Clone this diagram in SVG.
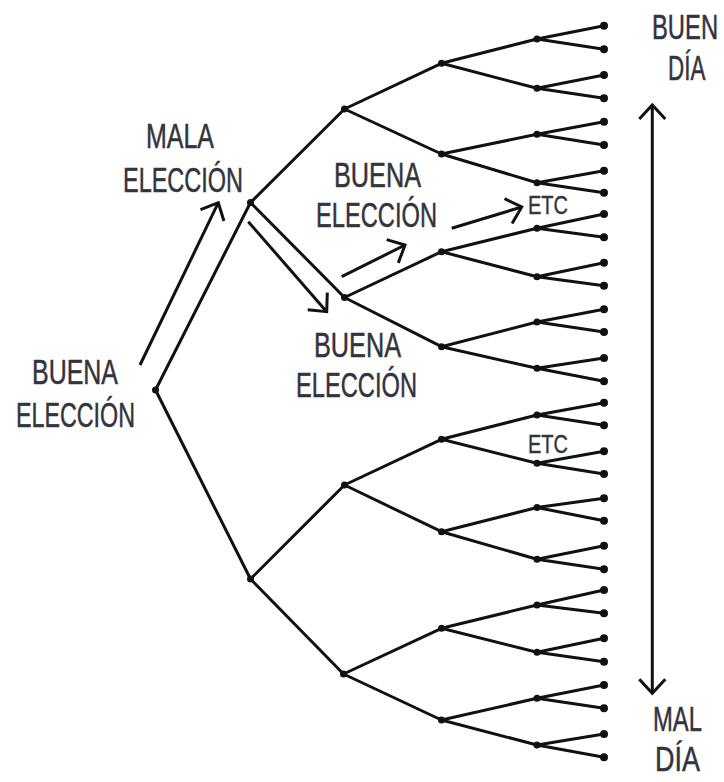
<svg xmlns="http://www.w3.org/2000/svg" width="724" height="782" viewBox="0 0 724 782">
<style>
.edge{fill:none;stroke:#111;stroke-width:3;stroke-linecap:round}
.arrow{fill:none;stroke:#111;stroke-width:3}
.dot{fill:#111}
.lbl{font-family:"Liberation Sans",Arial,sans-serif;font-size:35px;fill:#33343c;stroke:#33343c;stroke-width:0.5}
.etc{font-family:"Liberation Sans",Arial,sans-serif;font-size:26px;fill:#33343c;stroke:#33343c;stroke-width:0.4}
</style>
<defs>
<marker id="chev" markerUnits="userSpaceOnUse" markerWidth="40" markerHeight="40" refX="0" refY="0" viewBox="-20 -20 40 40" orient="auto-start-reverse" overflow="visible">
<path d="M-14,-13 L0,0 L-14,13" fill="none" stroke="#111" stroke-width="3" stroke-linejoin="miter"/>
</marker>
</defs>
<rect width="724" height="782" fill="#fff"/>
<g id="connectors">
<path class="edge" d="M155.5,390 L250.5,202.5 M155.5,390 L250.5,579
M250.5,202.5 L344.5,109 M250.5,202.5 L344.5,297.5 M250.5,579 L344.5,485 M250.5,579 L343.5,674
M344.5,109 L441.5,63.3 M344.5,109 L441.5,154 M344.5,297.5 L441.5,251.7 M344.5,297.5 L441.5,346.7
M344.5,485 L441.5,439.3 M344.5,485 L441.5,531.7 M343.5,674 L441.5,628.3 M343.5,674 L441.5,720
M441.5,63.3 L537,39 M441.5,63.3 L537,88.3 M441.5,154 L537,134.3 M441.5,154 L537,182.7
M441.5,251.7 L537,228.3 M441.5,251.7 L537,276.7 M441.5,346.7 L537,322 M441.5,346.7 L537,368.3
M441.5,439.3 L537,415 M441.5,439.3 L537,463.3 M441.5,531.7 L537,507.5 M441.5,531.7 L537,559.3
M441.5,628.3 L537,605 M441.5,628.3 L537,652.3 M441.5,720 L537,698.3 M441.5,720 L537,745
M537,39 L604,25.7 M537,39 L604,49.3 M537,88.3 L604,75 M537,88.3 L604,98.3
M537,134.3 L604,121.7 M537,134.3 L604,145 M537,182.7 L604,170.7 M537,182.7 L604,192.7
M537,228.3 L604,214 M537,228.3 L604,237.3 M537,276.7 L604,262.7 M537,276.7 L604,285.7
M537,322 L604,309.3 M537,322 L604,332 M537,368.3 L604,358 M537,368.3 L604,381.3
M537,415 L604,402.7 M537,415 L604,425.3 M537,463.3 L604,451.3 M537,463.3 L604,474
M537,507.5 L604,498.3 M537,507.5 L604,520.7 M537,559.3 L604,545.7 M537,559.3 L604,569.3
M537,605 L604,590 M537,605 L604,613.3 M537,652.3 L604,638.3 M537,652.3 L604,661.7
M537,698.3 L604,685 M537,698.3 L604,708.3 M537,745 L604,734 M537,745 L604,757.3"/>
<line class="arrow" x1="140" y1="365" x2="218.3" y2="202.7" marker-end="url(#chev)"/>
<line class="arrow" x1="248.3" y1="221.7" x2="326.7" y2="311.7" marker-end="url(#chev)"/>
<line class="arrow" x1="341.7" y1="276.7" x2="405" y2="245" marker-end="url(#chev)"/>
<line class="arrow" x1="451.7" y1="228.3" x2="521.7" y2="207" marker-end="url(#chev)"/>
<line class="arrow" x1="652.3" y1="105" x2="652.3" y2="693.3" marker-start="url(#chev)" marker-end="url(#chev)"/>
</g>
<g id="nodes">
<g id="n-root"><circle class="dot" cx="155.5" cy="390" r="3.5"/></g>
<g id="n-1a"><circle class="dot" cx="250.5" cy="202.5" r="3.5"/></g>
<g id="n-1b"><circle class="dot" cx="250.5" cy="579" r="3.5"/></g>
<g id="n-2a"><circle class="dot" cx="344.5" cy="109" r="3.5"/></g>
<g id="n-2b"><circle class="dot" cx="344.5" cy="297.5" r="3.5"/></g>
<g id="n-2c"><circle class="dot" cx="344.5" cy="485" r="3.5"/></g>
<g id="n-2d"><circle class="dot" cx="343.5" cy="674" r="3.5"/></g>
<g id="n-3a"><circle class="dot" cx="441.5" cy="63.3" r="3.5"/></g>
<g id="n-3b"><circle class="dot" cx="441.5" cy="154" r="3.5"/></g>
<g id="n-3c"><circle class="dot" cx="441.5" cy="251.7" r="3.5"/></g>
<g id="n-3d"><circle class="dot" cx="441.5" cy="346.7" r="3.5"/></g>
<g id="n-3e"><circle class="dot" cx="441.5" cy="439.3" r="3.5"/></g>
<g id="n-3f"><circle class="dot" cx="441.5" cy="531.7" r="3.5"/></g>
<g id="n-3g"><circle class="dot" cx="441.5" cy="628.3" r="3.5"/></g>
<g id="n-3h"><circle class="dot" cx="441.5" cy="720" r="3.5"/></g>
<g id="n-4-0"><circle class="dot" cx="537" cy="39" r="3.5"/></g>
<g id="n-4-1"><circle class="dot" cx="537" cy="88.3" r="3.5"/></g>
<g id="n-4-2"><circle class="dot" cx="537" cy="134.3" r="3.5"/></g>
<g id="n-4-3"><circle class="dot" cx="537" cy="182.7" r="3.5"/></g>
<g id="n-4-4"><circle class="dot" cx="537" cy="228.3" r="3.5"/></g>
<g id="n-4-5"><circle class="dot" cx="537" cy="276.7" r="3.5"/></g>
<g id="n-4-6"><circle class="dot" cx="537" cy="322" r="3.5"/></g>
<g id="n-4-7"><circle class="dot" cx="537" cy="368.3" r="3.5"/></g>
<g id="n-4-8"><circle class="dot" cx="537" cy="415" r="3.5"/></g>
<g id="n-4-9"><circle class="dot" cx="537" cy="463.3" r="3.5"/></g>
<g id="n-4-10"><circle class="dot" cx="537" cy="507.5" r="3.5"/></g>
<g id="n-4-11"><circle class="dot" cx="537" cy="559.3" r="3.5"/></g>
<g id="n-4-12"><circle class="dot" cx="537" cy="605" r="3.5"/></g>
<g id="n-4-13"><circle class="dot" cx="537" cy="652.3" r="3.5"/></g>
<g id="n-4-14"><circle class="dot" cx="537" cy="698.3" r="3.5"/></g>
<g id="n-4-15"><circle class="dot" cx="537" cy="745" r="3.5"/></g>
<g id="leaf-0"><circle class="dot" cx="604" cy="25.7" r="4"/></g>
<g id="leaf-1"><circle class="dot" cx="604" cy="49.3" r="4"/></g>
<g id="leaf-2"><circle class="dot" cx="604" cy="75" r="4"/></g>
<g id="leaf-3"><circle class="dot" cx="604" cy="98.3" r="4"/></g>
<g id="leaf-4"><circle class="dot" cx="604" cy="121.7" r="4"/></g>
<g id="leaf-5"><circle class="dot" cx="604" cy="145" r="4"/></g>
<g id="leaf-6"><circle class="dot" cx="604" cy="170.7" r="4"/></g>
<g id="leaf-7"><circle class="dot" cx="604" cy="192.7" r="4"/></g>
<g id="leaf-8"><circle class="dot" cx="604" cy="214" r="4"/></g>
<g id="leaf-9"><circle class="dot" cx="604" cy="237.3" r="4"/></g>
<g id="leaf-10"><circle class="dot" cx="604" cy="262.7" r="4"/></g>
<g id="leaf-11"><circle class="dot" cx="604" cy="285.7" r="4"/></g>
<g id="leaf-12"><circle class="dot" cx="604" cy="309.3" r="4"/></g>
<g id="leaf-13"><circle class="dot" cx="604" cy="332" r="4"/></g>
<g id="leaf-14"><circle class="dot" cx="604" cy="358" r="4"/></g>
<g id="leaf-15"><circle class="dot" cx="604" cy="381.3" r="4"/></g>
<g id="leaf-16"><circle class="dot" cx="604" cy="402.7" r="4"/></g>
<g id="leaf-17"><circle class="dot" cx="604" cy="425.3" r="4"/></g>
<g id="leaf-18"><circle class="dot" cx="604" cy="451.3" r="4"/></g>
<g id="leaf-19"><circle class="dot" cx="604" cy="474" r="4"/></g>
<g id="leaf-20"><circle class="dot" cx="604" cy="498.3" r="4"/></g>
<g id="leaf-21"><circle class="dot" cx="604" cy="520.7" r="4"/></g>
<g id="leaf-22"><circle class="dot" cx="604" cy="545.7" r="4"/></g>
<g id="leaf-23"><circle class="dot" cx="604" cy="569.3" r="4"/></g>
<g id="leaf-24"><circle class="dot" cx="604" cy="590" r="4"/></g>
<g id="leaf-25"><circle class="dot" cx="604" cy="613.3" r="4"/></g>
<g id="leaf-26"><circle class="dot" cx="604" cy="638.3" r="4"/></g>
<g id="leaf-27"><circle class="dot" cx="604" cy="661.7" r="4"/></g>
<g id="leaf-28"><circle class="dot" cx="604" cy="685" r="4"/></g>
<g id="leaf-29"><circle class="dot" cx="604" cy="708.3" r="4"/></g>
<g id="leaf-30"><circle class="dot" cx="604" cy="734" r="4"/></g>
<g id="leaf-31"><circle class="dot" cx="604" cy="757.3" r="4"/></g>
</g>
<g id="labels">
<g id="lbl-mala">
<text class="lbl" x="146" y="148" textLength="68" lengthAdjust="spacingAndGlyphs">MALA</text>
<text class="lbl" x="123" y="192" textLength="120" lengthAdjust="spacingAndGlyphs">ELECCIÓN</text>
</g>
<g id="lbl-buena-upper">
<text class="lbl" x="334" y="187" textLength="87" lengthAdjust="spacingAndGlyphs">BUENA</text>
<text class="lbl" x="316" y="227" textLength="121" lengthAdjust="spacingAndGlyphs">ELECCIÓN</text>
</g>
<g id="lbl-buena-lower">
<text class="lbl" x="314" y="357" textLength="87" lengthAdjust="spacingAndGlyphs">BUENA</text>
<text class="lbl" x="296" y="397" textLength="121" lengthAdjust="spacingAndGlyphs">ELECCIÓN</text>
</g>
<g id="lbl-buena-left">
<text class="lbl" x="32" y="384" textLength="86" lengthAdjust="spacingAndGlyphs">BUENA</text>
<text class="lbl" x="16" y="427" textLength="119" lengthAdjust="spacingAndGlyphs">ELECCIÓN</text>
</g>
<g id="lbl-buen-dia">
<text class="lbl" transform="translate(652,39) scale(0.68,1)">BUEN</text>
<text class="lbl" transform="translate(668,80) scale(0.64,1)">DÍA</text>
</g>
<g id="lbl-mal-dia">
<text class="lbl" x="653" y="731" textLength="49" lengthAdjust="spacingAndGlyphs">MAL</text>
<text class="lbl" x="655" y="771" textLength="45" lengthAdjust="spacingAndGlyphs">DÍA</text>
</g>
<g id="lbl-etc-1"><text class="etc" x="528" y="214" textLength="40" lengthAdjust="spacingAndGlyphs">ETC</text></g>
<g id="lbl-etc-2"><text class="etc" x="528" y="453" textLength="40" lengthAdjust="spacingAndGlyphs">ETC</text></g>
</g>
</svg>
